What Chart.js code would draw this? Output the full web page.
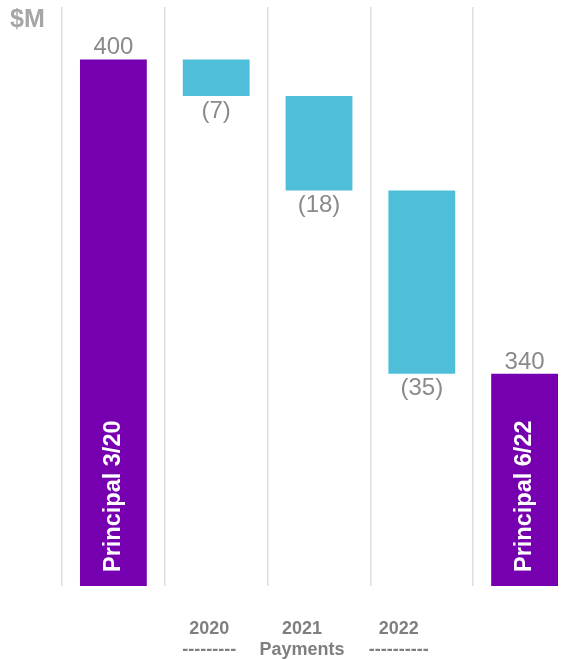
<!DOCTYPE html>
<html lang="en">
<head>
    <meta charset="UTF-8">
    <title>Principal Waterfall</title>
    <script src="https://cdnjs.cloudflare.com/ajax/libs/chart.js/4.4.1/chart.umd.min.js"></script>
    <style>
        body {
            margin: 0;
            background: #ffffff;
            overflow: hidden;
        }

        .canvas-container {
            position: absolute;
            left: 0;
            top: 0;
            width: 580px;
            height: 659px;
        }
    </style>
</head>
<body>
    <div class="canvas-container">
        <canvas id="waterfallChart"></canvas>
    </div>

    <script>
        // Chart data
        const categories = ['Principal 3/20', '2020', '2021', '2022', 'Principal 6/22'];
        const values = [400, -7, -18, -35, 340];
        const isTotal = [true, false, false, false, true];
        const tickLines = [[], ['2020', '---------'], ['2021', 'Payments'], ['2022', '----------'], []];
        const unitLabel = '$M';

        const FONT = "Arial, 'Liberation Sans', sans-serif";
        const PURPLE = '#7600b0';
        const BLUE = '#4ebed9';

        // build floating ranges for the waterfall
        let running = 0;
        const ranges = values.map((v, i) => {
            if (isTotal[i]) {
                running = v;
                return [0, v];
            }
            const start = running;
            running = running + v;
            return [running, start];
        });

        // small per-label shift so the year text sits like the original
        const tickShift = [0, -7, -17, -23, 0];

        const labelPlugin = {
            id: 'waterfallLabels',
            afterDatasetsDraw(chart) {
                const ctx = chart.ctx;
                const area = chart.chartArea;
                const meta = chart.getDatasetMeta(0);
                ctx.save();

                meta.data.forEach((bar, i) => {
                    const v = values[i];
                    if (isTotal[i]) {
                        // value above bar
                        ctx.font = '24px ' + FONT;
                        ctx.fillStyle = '#8a8a8a';
                        ctx.textAlign = 'center';
                        ctx.textBaseline = 'alphabetic';
                        ctx.fillText(String(v), bar.x, bar.y - 5);

                        // rotated name inside bar
                        const bottom = Math.min(bar.base, area.bottom);
                        ctx.save();
                        ctx.translate(bar.x, bottom - 14);
                        ctx.rotate(-Math.PI / 2);
                        ctx.font = 'bold 23.5px ' + FONT;
                        ctx.fillStyle = '#ffffff';
                        ctx.textAlign = 'left';
                        ctx.textBaseline = 'middle';
                        ctx.fillText(categories[i], 0, 0);
                        ctx.restore();
                    } else {
                        ctx.font = '24px ' + FONT;
                        ctx.fillStyle = '#8a8a8a';
                        ctx.textAlign = 'center';
                        ctx.textBaseline = 'top';
                        ctx.fillText('(' + Math.abs(v) + ')', bar.x, Math.max(bar.y, bar.base) + 3);
                    }
                });

                // category text under the plot
                ctx.font = 'bold 18px ' + FONT;
                ctx.fillStyle = '#7f7f7f';
                ctx.textAlign = 'center';
                ctx.textBaseline = 'alphabetic';
                tickLines.forEach((lines, i) => {
                    const x = chart.scales.x.getPixelForValue(i) + tickShift[i];
                    lines.forEach((line, j) => {
                        ctx.fillText(line, x, 634 + j * 21);
                    });
                });

                // unit label
                ctx.font = 'bold 25px ' + FONT;
                ctx.fillStyle = '#a6a6a6';
                ctx.textAlign = 'left';
                ctx.fillText(unitLabel, 10, 27);

                ctx.restore();
            }
        };

        const ctx = document.getElementById('waterfallChart').getContext('2d');
        new Chart(ctx, {
            type: 'bar',
            data: {
                labels: categories,
                datasets: [{
                    data: ranges,
                    backgroundColor: isTotal.map(t => t ? PURPLE : BLUE),
                    borderWidth: 0,
                    barPercentage: 0.65,
                    categoryPercentage: 1.0
                }]
            },
            options: {
                responsive: true,
                maintainAspectRatio: false,
                animation: false,
                layout: {
                    padding: { left: 62, right: 4, top: 7, bottom: 73 }
                },
                plugins: {
                    legend: { display: false },
                    tooltip: { enabled: false }
                },
                scales: {
                    x: {
                        border: { display: false },
                        grid: {
                            offset: true,
                            drawTicks: false,
                            lineWidth: 1.5,
                            color: (c) => c.index >= categories.length ? 'rgba(0,0,0,0)' : '#dedede'
                        },
                        ticks: { display: false }
                    },
                    y: {
                        display: false,
                        min: 299.5,
                        max: 410
                    }
                }
            },
            plugins: [labelPlugin]
        });
    </script>
</body>
</html>
